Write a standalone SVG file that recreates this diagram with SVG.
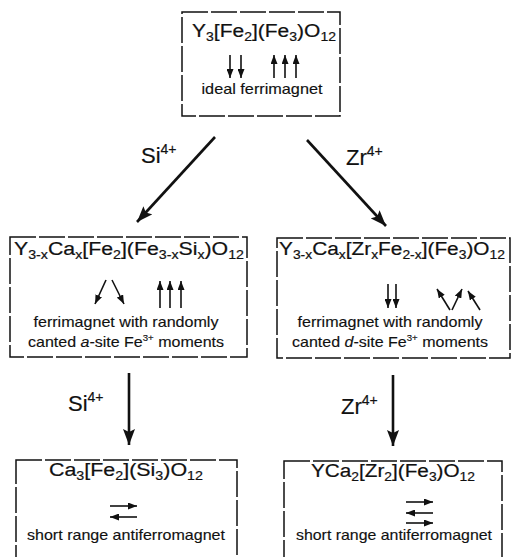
<svg xmlns="http://www.w3.org/2000/svg" width="512" height="557" viewBox="0 0 512 557">
<defs>
<style>
.bx{fill:#fff;stroke:#111;stroke-width:1.5;stroke-dasharray:26 3}
.f{font-family:"Liberation Sans",Arial,sans-serif;font-size:18px;fill:#111;stroke:#111;stroke-width:0.2}
.s{font-size:12px}
.d{font-family:"Liberation Sans",Arial,sans-serif;font-size:15px;fill:#111;stroke:#111;stroke-width:0.15}
.sp{font-size:9px}
.lb{font-family:"Liberation Sans",Arial,sans-serif;font-size:22px;fill:#111;stroke:#111;stroke-width:0.2}
.lbs{font-size:14px}
.spin{stroke:#111;stroke-width:1.6;fill:none;marker-end:url(#sh)}
.con{stroke:#111;stroke-width:2.6;fill:none;marker-end:url(#bh)}
</style>
<marker id="sh" viewBox="0 0 9 7" refX="9" refY="3.5" markerWidth="9" markerHeight="7" markerUnits="userSpaceOnUse" orient="auto"><path d="M0,0 L9,3.5 L0,7 z" fill="#111"/></marker>
<marker id="bh" viewBox="0 0 16 12" refX="16" refY="6" markerWidth="16" markerHeight="12" markerUnits="userSpaceOnUse" orient="auto"><path d="M0,0 L16,6 L0,12 L3,6 z" fill="#111"/></marker>
</defs>
<rect width="512" height="557" fill="#fff"/>

<g id="connectors">
<line class="con" x1="215" y1="137" x2="137" y2="222"/>
<line class="con" x1="307" y1="140" x2="386" y2="226"/>
<line class="con" x1="129" y1="373" x2="129" y2="445"/>
<line class="con" x1="393" y1="375" x2="393" y2="446"/>
<text class="lb" x="141" y="163">Si<tspan class="lbs" dy="-9">4+</tspan></text>
<text class="lb" x="346" y="165">Zr<tspan class="lbs" dy="-9">4+</tspan></text>
<text class="lb" x="68" y="411">Si<tspan class="lbs" dy="-9">4+</tspan></text>
<text class="lb" x="341" y="414">Zr<tspan class="lbs" dy="-9">4+</tspan></text>
</g>

<g id="n-top">
<rect class="bx" x="182" y="12" width="158" height="104"/>
<text class="f" x="264" y="37" text-anchor="middle" textLength="144" lengthAdjust="spacingAndGlyphs">Y<tspan class="s" dy="4">3</tspan><tspan dy="-4">[Fe</tspan><tspan class="s" dy="4">2</tspan><tspan dy="-4">](Fe</tspan><tspan class="s" dy="4">3</tspan><tspan dy="-4">)O</tspan><tspan class="s" dy="4">12</tspan></text>
<line class="spin" x1="230" y1="55" x2="230" y2="78"/>
<line class="spin" x1="241" y1="55" x2="241" y2="78"/>
<line class="spin" x1="274" y1="78" x2="274" y2="55"/>
<line class="spin" x1="285" y1="78" x2="285" y2="55"/>
<line class="spin" x1="296" y1="78" x2="296" y2="55"/>
<text class="d" x="262" y="94" text-anchor="middle" textLength="121" lengthAdjust="spacingAndGlyphs">ideal ferrimagnet</text>
</g>

<g id="n-si">
<rect class="bx" x="10" y="237" width="237" height="120"/>
<text class="f" x="129" y="255" text-anchor="middle" textLength="230" lengthAdjust="spacingAndGlyphs">Y<tspan class="s" dy="4">3-x</tspan><tspan dy="-4">Ca</tspan><tspan class="s" dy="4">x</tspan><tspan dy="-4">[Fe</tspan><tspan class="s" dy="4">2</tspan><tspan dy="-4">](Fe</tspan><tspan class="s" dy="4">3-x</tspan><tspan dy="-4">Si</tspan><tspan class="s" dy="4">x</tspan><tspan dy="-4">)O</tspan><tspan class="s" dy="4">12</tspan></text>
<line class="spin" x1="106" y1="280" x2="95" y2="304"/>
<line class="spin" x1="112" y1="280" x2="124" y2="304"/>
<line class="spin" x1="160" y1="308" x2="160" y2="281"/>
<line class="spin" x1="170" y1="308" x2="170" y2="281"/>
<line class="spin" x1="181" y1="308" x2="181" y2="281"/>
<text class="d" x="126" y="327" text-anchor="middle" textLength="185" lengthAdjust="spacingAndGlyphs">ferrimagnet with randomly</text>
<text class="d" x="126" y="347" text-anchor="middle" textLength="196" lengthAdjust="spacingAndGlyphs">canted <tspan font-style="italic">a</tspan>-site Fe<tspan class="sp" dy="-6">3+</tspan><tspan dy="6"> moments</tspan></text>
</g>

<g id="n-zr">
<rect class="bx" x="277" y="238" width="233" height="120"/>
<text class="f" x="392" y="255" text-anchor="middle" textLength="226" lengthAdjust="spacingAndGlyphs">Y<tspan class="s" dy="4">3-x</tspan><tspan dy="-4">Ca</tspan><tspan class="s" dy="4">x</tspan><tspan dy="-4">[Zr</tspan><tspan class="s" dy="4">x</tspan><tspan dy="-4">Fe</tspan><tspan class="s" dy="4">2-x</tspan><tspan dy="-4">](Fe</tspan><tspan class="s" dy="4">3</tspan><tspan dy="-4">)O</tspan><tspan class="s" dy="4">12</tspan></text>
<line class="spin" x1="388" y1="284" x2="388" y2="308"/>
<line class="spin" x1="396" y1="284" x2="396" y2="308"/>
<line class="spin" x1="450" y1="310" x2="437" y2="289"/>
<line class="spin" x1="452" y1="310" x2="462" y2="289"/>
<line class="spin" x1="480" y1="310" x2="468" y2="291"/>
<text class="d" x="390" y="327" text-anchor="middle" textLength="185" lengthAdjust="spacingAndGlyphs">ferrimagnet with randomly</text>
<text class="d" x="390" y="347" text-anchor="middle" textLength="196" lengthAdjust="spacingAndGlyphs">canted <tspan font-style="italic">d</tspan>-site Fe<tspan class="sp" dy="-6">3+</tspan><tspan dy="6"> moments</tspan></text>
</g>

<g id="n-ca">
<rect class="bx" x="16" y="460" width="221" height="110"/>
<text class="f" x="126" y="476" text-anchor="middle" textLength="154" lengthAdjust="spacingAndGlyphs">Ca<tspan class="s" dy="4">3</tspan><tspan dy="-4">[Fe</tspan><tspan class="s" dy="4">2</tspan><tspan dy="-4">](Si</tspan><tspan class="s" dy="4">3</tspan><tspan dy="-4">)O</tspan><tspan class="s" dy="4">12</tspan></text>
<line class="spin" x1="110" y1="506" x2="137" y2="506"/>
<line class="spin" x1="137" y1="517" x2="110" y2="517"/>
<text class="d" x="126" y="540" text-anchor="middle" textLength="198" lengthAdjust="spacingAndGlyphs">short range antiferromagnet</text>
</g>

<g id="n-y">
<rect class="bx" x="284" y="461" width="218" height="110"/>
<text class="f" x="393" y="477" text-anchor="middle" textLength="164" lengthAdjust="spacingAndGlyphs">YCa<tspan class="s" dy="4">2</tspan><tspan dy="-4">[Zr</tspan><tspan class="s" dy="4">2</tspan><tspan dy="-4">](Fe</tspan><tspan class="s" dy="4">3</tspan><tspan dy="-4">)O</tspan><tspan class="s" dy="4">12</tspan></text>
<line class="spin" x1="406" y1="502" x2="433" y2="502"/>
<line class="spin" x1="433" y1="513" x2="406" y2="513"/>
<line class="spin" x1="406" y1="523" x2="433" y2="523"/>
<text class="d" x="394" y="540" text-anchor="middle" textLength="196" lengthAdjust="spacingAndGlyphs">short range antiferromagnet</text>
</g>
</svg>
